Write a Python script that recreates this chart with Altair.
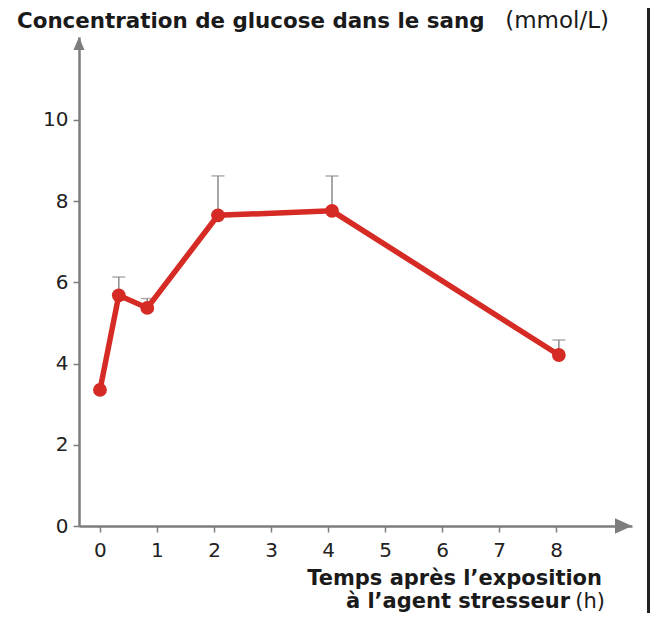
import altair as alt
import pandas as pd

# Data
temps = [0, 0.33, 0.83, 2.07, 4.07, 8.05]          # h
glucose = [3.35, 5.68, 5.37, 7.65, 7.76, 4.21]     # mmol/L
err_top = [None, 6.13, 5.6, 8.62, 8.62, 4.58]      # upper end of error bars
x_ticks = [0, 1, 2, 3, 4, 5, 6, 7, 8]
y_ticks = [0, 2, 4, 6, 8, 10]

df = pd.DataFrame({"t": temps, "v": glucose, "up": err_top})
df_err = df.dropna()
one = pd.DataFrame({"a": [0]})

W, H = 553, 489
RED = "#d62a24"
GREY = "#7d7d7d"
FONT = "DejaVu Sans"

xs = alt.Scale(domain=[-0.368, 9.333], nice=False, zero=False)
ys = alt.Scale(domain=[0, 12.04], nice=False)

axis_common = dict(title=None, grid=False, domainColor=GREY, domainWidth=2.5,
                   tickColor=GREY, tickWidth=1.5, tickSize=6,
                   labelFontSize=20, labelFont=FONT, labelColor="#222", format="d")

err_rules = alt.Chart(df_err).mark_rule(color="#8a8a8a", strokeWidth=1.5).encode(
    x=alt.X("t:Q", scale=xs, axis=alt.Axis(values=x_ticks, labelPadding=8, **axis_common)),
    y=alt.Y("v:Q", scale=ys, axis=alt.Axis(values=y_ticks, labelPadding=5, **axis_common)),
    y2="up:Q",
)
err_caps = alt.Chart(df_err).mark_tick(orient="horizontal", size=13, thickness=1.5,
                                       color="#8a8a8a").encode(x="t:Q", y="up:Q")
line = alt.Chart(df).mark_line(color=RED, strokeWidth=5.5).encode(x="t:Q", y="v:Q")
points = alt.Chart(df).mark_circle(color=RED, size=190, opacity=1).encode(x="t:Q", y="v:Q")

arrow_up = alt.Chart(one).mark_point(shape="M0,-1L-0.85,1L0.85,1Z", filled=True,
                                     color=GREY, size=169, opacity=1).encode(
    x=alt.value(0), y=alt.value(6.5))
arrow_right = alt.Chart(one).mark_point(shape="M1,0L-1,-0.9L-1,0.9Z", filled=True,
                                        color=GREY, size=289, opacity=1).encode(
    x=alt.value(W - 8.5), y=alt.value(H))

def txt(s, x, y, align, weight, size):
    return alt.Chart(one).mark_text(text=s, align=align, baseline="alphabetic",
                                    font=FONT, fontSize=size, fontWeight=weight,
                                    color="#1a1a1a").encode(x=alt.value(x), y=alt.value(y))

title1 = txt("Concentration de glucose dans le sang", -62, -9, "left", "bold", 21.4)
title2 = txt("(mmol/L)", 530, -9, "right", "normal", 23)
xt1 = txt("Temps après l\u2019exposition", 523, 548, "right", "bold", 21)
xt2a = txt("à l\u2019agent stresseur", 491, 571, "right", "bold", 21)
xt2b = txt("(h)", 526, 571, "right", "normal", 21)

border = alt.Chart(one).mark_rule(color="#222", strokeWidth=3).encode(
    x=alt.value(569.5), y=alt.value(-40), y2=alt.value(600))

chart = alt.layer(
    err_rules, err_caps, line, points, arrow_up, arrow_right,
    title1, title2, xt1, xt2a, xt2b, border
).properties(
    width=W, height=H,
    autosize=alt.AutoSizeParams(type="none"),
    padding={"left": 71, "top": 29, "right": 18, "bottom": 87},
).configure_view(stroke=None)

chart.save("out.html", embed_options={"renderer": "svg", "actions": False})
